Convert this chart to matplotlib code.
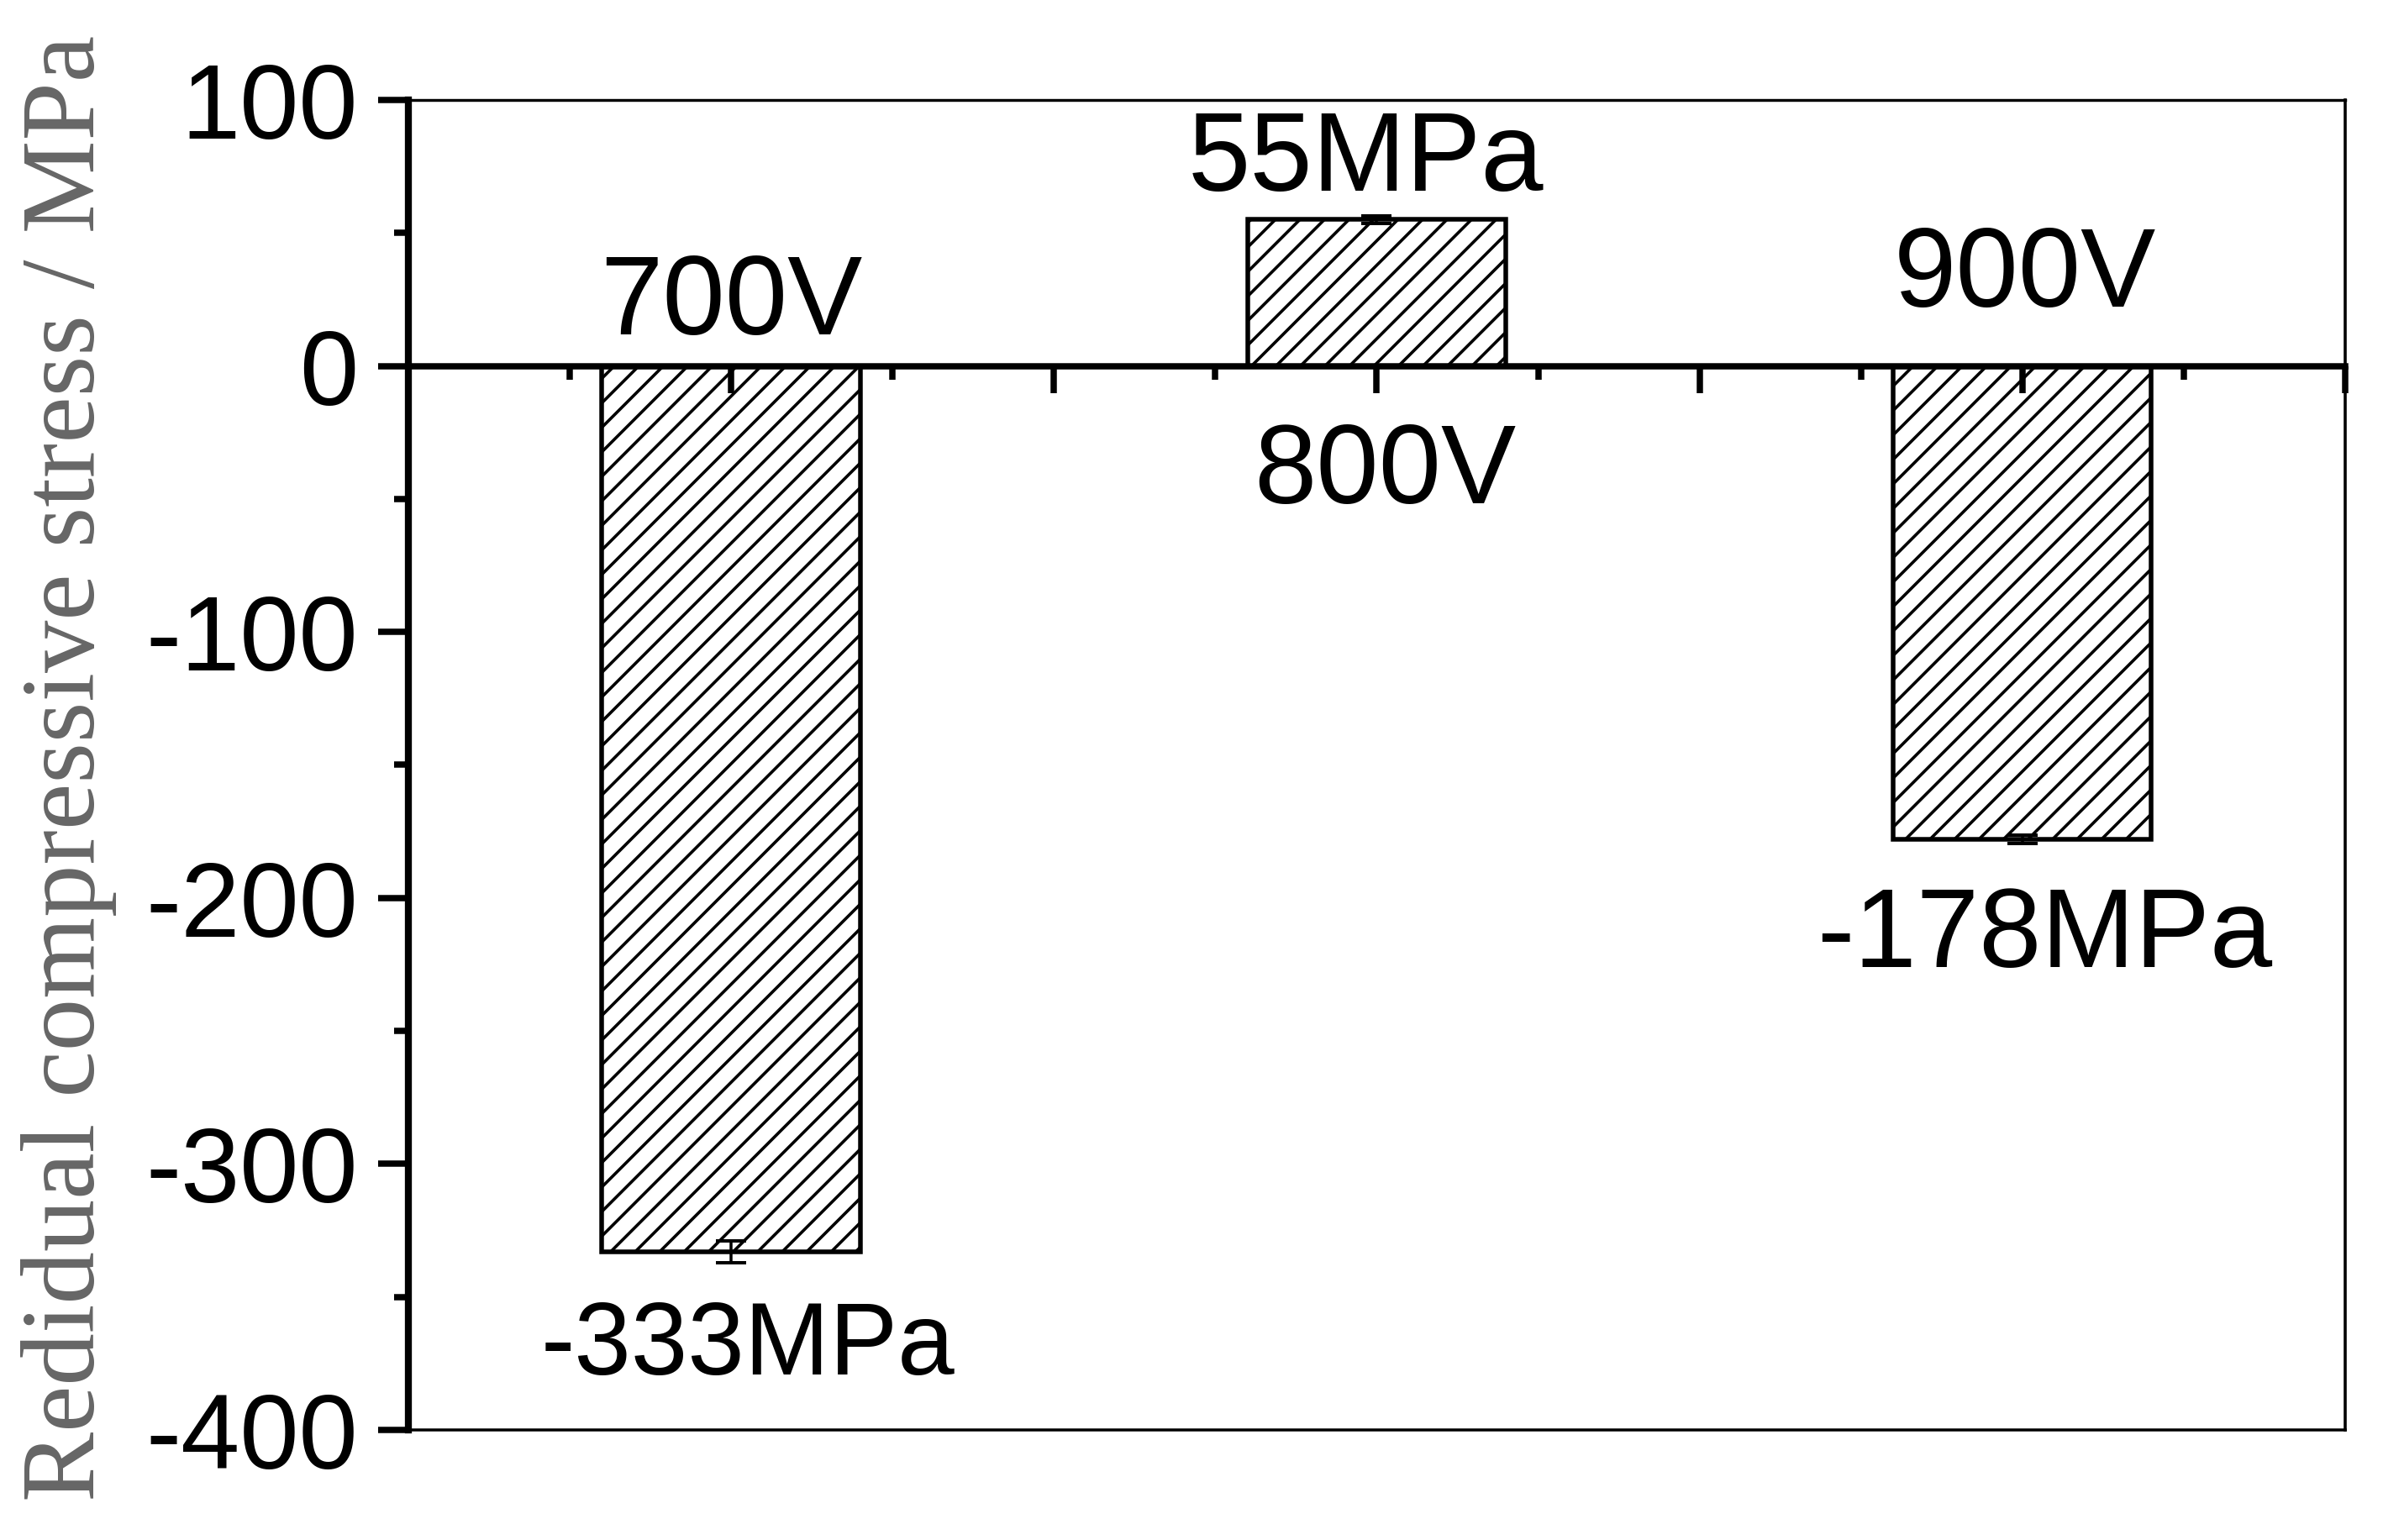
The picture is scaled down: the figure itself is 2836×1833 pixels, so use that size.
import numpy as np
import matplotlib
matplotlib.use('Agg')
import matplotlib.pyplot as plt
from matplotlib.ticker import MultipleLocator, NullFormatter

# data
voltages = ['700V', '800V', '900V']
stress = [-333, 55, -178]
stress_err = [4, 1.5, 1.5]
value_labels = ['-333MPa', '55MPa', '-178MPa']
y_ticks = [100, 0, -100, -200, -300, -400]

# label placement (baseline y in data units, x shift from bar centre, size)
volt_label_y = [12, -51.6, 22.2]
volt_label_dx = [0.0, 0.013, 0.004]
val_label_y = [-379, 66, -226]
val_label_dx = [0.026, -0.017, 0.034]
val_label_size = [50, 55, 55]

DPI = 175
W, H = 2837, 1833


def px(v):
    # pixels -> points at the output dpi
    return v * 72 / DPI


plt.rcParams['font.family'] = ['Liberation Sans', 'DejaVu Sans']
plt.rcParams['axes.unicode_minus'] = False
plt.rcParams['hatch.linewidth'] = px(3.6)

fig = plt.figure(figsize=(W / DPI, H / DPI), dpi=DPI)
ax = fig.add_axes([486 / W, 131 / H, 2305 / W, 1583 / H])

x = np.arange(1, len(voltages) + 1)
ax.bar(x, stress, width=0.4, color='white', edgecolor='black',
       linewidth=px(5.5), hatch='//')
ax.errorbar(x, stress, yerr=stress_err, fmt='none', ecolor='black',
            elinewidth=px(3.5), capsize=px(18), capthick=px(4))

ax.set_xlim(0.5, 3.5)
ax.set_ylim(-400, 100)

# x axis sits on the zero line, thin frame round the rest
ax.spines['bottom'].set_position(('data', 0))
ax.spines['bottom'].set_linewidth(px(7.5))
ax.spines['left'].set_linewidth(px(8.3))
ax.spines['top'].set_linewidth(px(3.4))
ax.spines['right'].set_linewidth(px(3.6))
ax.axhline(ax.get_ylim()[0], color='black', lw=px(3.5), clip_on=False)

ax.xaxis.set_major_locator(MultipleLocator(0.5))
ax.xaxis.set_minor_locator(MultipleLocator(0.25))
ax.xaxis.set_major_formatter(NullFormatter())
ax.set_yticks(y_ticks)
ax.yaxis.set_minor_locator(MultipleLocator(50))
ax.tick_params(axis='x', which='major', direction='out', length=px(32), width=px(7.5))
ax.tick_params(axis='x', which='minor', direction='out', length=px(16), width=px(7.5))
ax.tick_params(axis='y', which='major', direction='out', length=px(36), width=px(7.5),
               labelsize=52, pad=px(24))
ax.tick_params(axis='y', which='minor', direction='out', length=px(17), width=px(7.5))

for xi, dx, lab, ly in zip(x, volt_label_dx, voltages, volt_label_y):
    ax.text(xi + dx, ly, lab, ha='center', va='baseline', fontsize=55)
for xi, dx, lab, ly, fs in zip(x, val_label_dx, value_labels, val_label_y, val_label_size):
    ax.text(xi + dx, ly, lab, ha='center', va='baseline', fontsize=fs)

fig.text(82 / W, 1 - 914 / H, 'Redidual compressive stress / MPa',
         rotation=90, ha='center', va='center', fontsize=51.3,
         family='Liberation Serif', color='#666666')

fig.savefig('out.png', dpi=DPI)
